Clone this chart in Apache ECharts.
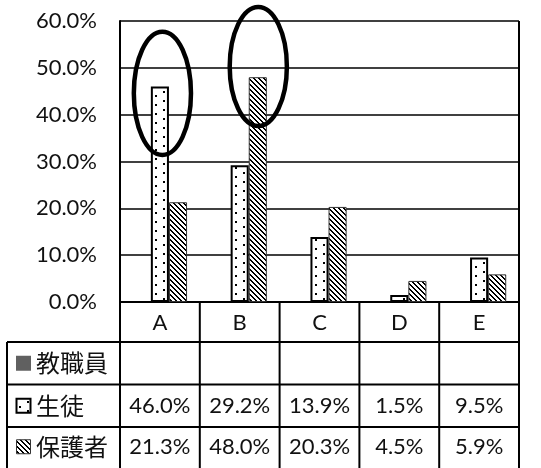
<!DOCTYPE html>
<html>
<head>
<meta charset="utf-8">
<style>
  html, body { margin: 0; padding: 0; background: #fff; }
  #chart { width: 541px; height: 468px; }
</style>
<script src="https://cdn.jsdelivr.net/npm/echarts@6/dist/echarts.min.js"></script>
</head>
<body>
<div id="chart"></div>
<script>
// Survey results by answer (A–E), share of each respondent group
const categories = ['A', 'B', 'C', 'D', 'E'];
const groupNames = ['教職員', '生徒', '保護者'];
const staffValues = [null, null, null, null, null];
const studentValues = [46.0, 29.2, 13.9, 1.5, 9.5];
const parentValues = [21.3, 48.0, 20.3, 4.5, 5.9];
const yTickValues = [0, 10, 20, 30, 40, 50, 60];

// Hand-drawn rings around the two answers to highlight (range in axis %)
const highlights = [
  { group: '生徒', category: 'A', from: 31.4, to: 57.7, dx: 2.5 },
  { group: '保護者', category: 'B', from: 37.6, to: 63.0, dx: 0.5 }
];

const LATIN = '22px Lato, "Noto Sans CJK JP", sans-serif';
const CJK = '24px "Noto Sans CJK JP", sans-serif';
const INK = '#111';

// Fill tiles: sparse dots for students, downward diagonal hatch for parents
function dotTile() {
  const c = document.createElement('canvas');
  c.width = 16; c.height = 9;
  const g = c.getContext('2d');
  g.fillStyle = '#fff'; g.fillRect(0, 0, 16, 9);
  g.fillStyle = '#000';
  g.fillRect(3, 1, 2, 2);
  g.fillRect(11, 5, 2, 2);
  return c;
}
function hatchTile() {
  const n = 5;
  const c = document.createElement('canvas');
  c.width = n; c.height = n;
  const g = c.getContext('2d');
  g.fillStyle = '#fff'; g.fillRect(0, 0, n, n);
  g.fillStyle = '#000';
  for (let i = 0; i < n; i++) {
    g.fillRect(i, i, 1, 1);
    g.fillRect((i + 1) % n, i, 1, 1);
  }
  return c;
}
const dotFill = { image: dotTile(), repeat: 'repeat' };
const hatchFill = { image: hatchTile(), repeat: 'repeat' };
const staffColor = '#606060';

const chart = echarts.init(document.getElementById('chart'), null, { renderer: 'canvas' });

const option = {
  animation: false,
  backgroundColor: '#fff',
  grid: { left: 120, right: 22, top: 21, bottom: 166, containLabel: false, outerBoundsMode: 'none' },
  xAxis: {
    type: 'category',
    data: categories,
    axisLine: { show: true, lineStyle: { color: '#000', width: 2 } },
    axisTick: { show: false },
    axisLabel: { fontFamily: 'Lato', fontSize: 22, color: INK, margin: 21, verticalAlign: 'middle' }
  },
  yAxis: {
    type: 'value',
    min: yTickValues[0],
    max: yTickValues[yTickValues.length - 1],
    interval: yTickValues[1] - yTickValues[0],
    axisLine: { show: true, lineStyle: { color: '#000', width: 2 } },
    axisTick: { show: false },
    splitLine: { show: true, lineStyle: { color: '#000', width: 1.5 } },
    axisLabel: {
      fontFamily: 'Lato', fontSize: 22, color: INK, margin: 23,
      formatter: v => v.toFixed(1) + '%'
    }
  },
  series: [
    { name: groupNames[0], type: 'bar', data: staffValues, barGap: '0%', barCategoryGap: '32%',
      itemStyle: { color: staffColor } },
    { name: groupNames[1], type: 'bar', data: studentValues, barGap: '0%', barCategoryGap: '32%',
      itemStyle: { color: dotFill, borderColor: '#000', borderWidth: 2 } },
    { name: groupNames[2], type: 'bar', data: parentValues, barGap: '0%', barCategoryGap: '32%',
      itemStyle: { color: hatchFill, borderColor: '#333', borderWidth: 1 } }
  ]
};
chart.setOption(option);

// Data table under the plot, plus the highlight rings
(function drawTable() {
  const px = c => chart.convertToPixel({ xAxisIndex: 0 }, c);
  const py = v => chart.convertToPixel({ yAxisIndex: 0 }, v);
  const band = px(categories[1]) - px(categories[0]);
  const left = px(categories[0]) - band / 2;
  const right = px(categories[categories.length - 1]) + band / 2;
  const top = py(yTickValues[yTickValues.length - 1]);
  const base = py(0);
  const headerH = 40, rowH = 42.5;
  const tableLeft = 7;
  const rowTops = [base + headerH, base + headerH + rowH, base + headerH + 2 * rowH];
  // the last row runs off the lower edge of the page
  const bottom = base + headerH + 3 * rowH + 4;

  const els = [];
  const line = (x1, y1, x2, y2, w) => els.push({
    type: 'line', shape: { x1, y1, x2, y2 }, silent: true, z: 10,
    style: { stroke: '#000', lineWidth: w || 2 }
  });

  // outer frame of the plot continuing into the table
  line(right, top, right, bottom);
  line(left, base, left, bottom);
  line(tableLeft, rowTops[0], tableLeft, bottom);
  for (let i = 1; i < categories.length; i++) {
    const x = left + band * i;
    line(x, base, x, bottom);
  }
  rowTops.forEach(y => line(tableLeft, y, right, y));

  // row headers with legend keys
  const rowsData = [staffValues, studentValues, parentValues];
  const keyFills = [
    { fill: staffColor, stroke: null, lineWidth: 0 },
    { fill: dotFill, stroke: '#000', lineWidth: 2 },
    { fill: hatchFill, stroke: '#333', lineWidth: 1 }
  ];
  groupNames.forEach((name, r) => {
    const cy = rowTops[r] + rowH / 2 - (r === 2 ? 1.5 : 0);
    const k = keyFills[r];
    const s = r === 0 ? 15 : 14;
    els.push({
      type: 'rect', z: 10, silent: true,
      shape: { x: 23.5 - s / 2, y: cy - s / 2, width: s, height: s },
      style: { fill: k.fill, stroke: k.stroke, lineWidth: k.lineWidth }
    });
    els.push({
      type: 'text', z: 10, silent: true,
      style: { text: name, x: 36, y: cy, font: CJK, fill: INK, align: 'left', verticalAlign: 'middle' }
    });
    rowsData[r].forEach((v, i) => {
      if (v == null) return;
      els.push({
        type: 'text', z: 10, silent: true,
        style: { text: v.toFixed(1) + '%', x: px(categories[i]), y: cy, font: LATIN, fill: INK,
                 align: 'center', verticalAlign: 'middle' }
      });
    });
  });

  // highlight rings around selected bars
  const model = chart.getModel();
  highlights.forEach(h => {
    const sIdx = groupNames.indexOf(h.group);
    const dIdx = categories.indexOf(h.category);
    const lay = model.getSeriesByIndex(sIdx).getData().getItemLayout(dIdx);
    const cx = lay.x + lay.width / 2 + h.dx;
    const y1 = py(h.to), y2 = py(h.from);
    els.push({
      type: 'ellipse', z: 20, silent: true,
      shape: { cx, cy: (y1 + y2) / 2, rx: lay.width * 1.58, ry: (y2 - y1) / 2 },
      style: { fill: null, stroke: '#000', lineWidth: 4.5 }
    });
  });

  chart.setOption({ graphic: { elements: els } });
})();
</script>
</body>
</html>
